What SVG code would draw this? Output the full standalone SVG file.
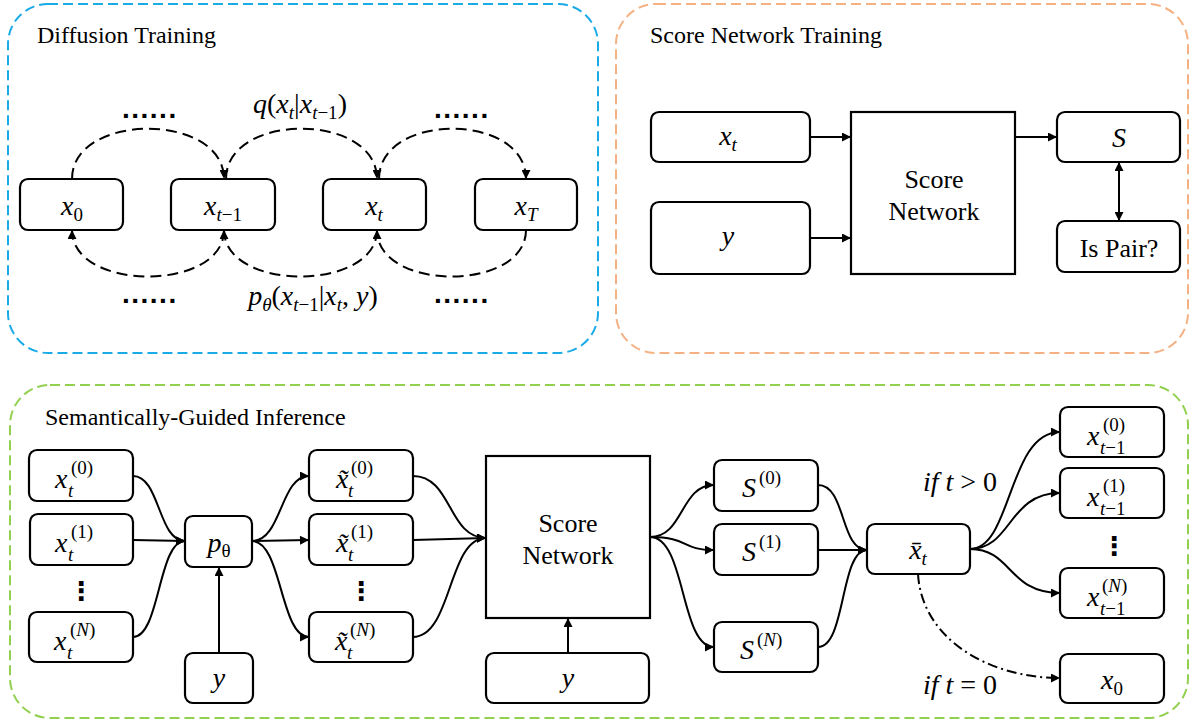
<svg xmlns="http://www.w3.org/2000/svg" width="1191" height="721" viewBox="0 0 1191 721">
<defs>
<marker id="ah" viewBox="0 0 10 10" refX="10" refY="5" markerWidth="10" markerHeight="9" markerUnits="userSpaceOnUse" orient="auto-start-reverse"><path d="M0,0 L10,5 L0,10 z" fill="#000" stroke="none"/></marker>
</defs>
<rect width="1191" height="721" fill="#fff"/>

<g id="panels" fill="none" stroke-width="2" stroke-dasharray="10 5">
<rect x="8" y="4" width="590" height="349" rx="40" stroke="#1aabe6"/>
<rect x="616" y="4" width="572" height="349" rx="40" stroke="#f4b183"/>
<rect x="10" y="385" width="1178" height="333" rx="40" stroke="#92d050"/>
</g>
<g id="titles" font-family="Liberation Serif" font-size="24" fill="#000">
<text x="37" y="43">Diffusion Training</text>
<text x="650" y="43">Score Network Training</text>
<text x="45" y="425">Semantically-Guided Inference</text>
</g>

<g id="connectors" fill="none" stroke="#000" stroke-width="2">
<g stroke-dasharray="11 6">
<path d="M72,179 C72,112 224,112 224,179" marker-end="url(#ah)"/>
<path d="M226,179 C226,112 377,112 377,179" marker-end="url(#ah)"/>
<path d="M379,179 C379,112 526,112 526,179" marker-end="url(#ah)"/>
<path d="M224,230 C224,292 72,292 72,230" marker-end="url(#ah)"/>
<path d="M377,230 C377,292 224,292 224,230" marker-end="url(#ah)"/>
<path d="M526,230 C526,292 377,292 377,230" marker-end="url(#ah)"/>
</g>
<path d="M810,137 L851,137" marker-end="url(#ah)"/>
<path d="M810,238 L851,238" marker-end="url(#ah)"/>
<path d="M1015,137 L1057,137" marker-end="url(#ah)"/>
<path d="M1119,162 L1119,221" marker-start="url(#ah)" marker-end="url(#ah)"/>
<path d="M133,476 C160,476 158,541 185,541" marker-end="url(#ah)"/>
<path d="M133,540 L185,541" marker-end="url(#ah)"/>
<path d="M133,637 C160,637 158,541 185,541" marker-end="url(#ah)"/>
<path d="M219,653 L219,567" marker-end="url(#ah)"/>
<path d="M252,541 C282,541 280,476 309,476" marker-end="url(#ah)"/>
<path d="M252,541 L309,540" marker-end="url(#ah)"/>
<path d="M252,541 C282,541 280,637 309,637" marker-end="url(#ah)"/>
<path d="M413,476 C452,476 448,538 486,538" marker-end="url(#ah)"/>
<path d="M413,540 L486,538" marker-end="url(#ah)"/>
<path d="M413,637 C452,637 448,538 486,538" marker-end="url(#ah)"/>
<path d="M568,653 L568,618" marker-end="url(#ah)"/>
<path d="M650,537 C684,537 680,485 714,485" marker-end="url(#ah)"/>
<path d="M650,537 C690,537 680,550 714,550" marker-end="url(#ah)"/>
<path d="M650,537 C686,537 680,647 714,647" marker-end="url(#ah)"/>
<path d="M818,485 C846,485 840,550 867,550" marker-end="url(#ah)"/>
<path d="M818,550 L867,550" marker-end="url(#ah)"/>
<path d="M818,647 C846,647 840,550 867,550" marker-end="url(#ah)"/>
<path d="M970,549 C1012,549 1008,432 1060,432" marker-end="url(#ah)"/>
<path d="M970,549 C1012,549 1008,493 1060,493" marker-end="url(#ah)"/>
<path d="M970,549 C1012,549 1008,593 1060,593" marker-end="url(#ah)"/>
<path d="M918,574 C922,640 990,678 1060,678" stroke-dasharray="10 4 2 4" marker-end="url(#ah)"/>
</g>

<g id="nodes" font-family="Liberation Serif" font-size="28" fill="#000">
<g id="d_x0"><rect x="20" y="179" width="103" height="51" rx="8" fill="#fff" stroke="#000" stroke-width="2.2"/>
<text font-style="italic" x="72" y="215" text-anchor="middle">x<tspan font-style="normal" font-size="19" dy="6">0</tspan></text></g>
<g id="d_xtm1"><rect x="171" y="179" width="104" height="51" rx="8" fill="#fff" stroke="#000" stroke-width="2.2"/>
<text font-style="italic" x="223" y="215" text-anchor="middle">x<tspan font-size="19" dy="6">t</tspan><tspan font-style="normal" font-size="19">&#8722;1</tspan></text></g>
<g id="d_xt"><rect x="323" y="179" width="103" height="51" rx="8" fill="#fff" stroke="#000" stroke-width="2.2"/>
<text font-style="italic" x="374" y="215" text-anchor="middle">x<tspan font-size="19" dy="6">t</tspan></text></g>
<g id="d_xT"><rect x="475" y="179" width="102" height="51" rx="8" fill="#fff" stroke="#000" stroke-width="2.2"/>
<text font-style="italic" x="526" y="215" text-anchor="middle">x<tspan font-size="19" dy="6">T</tspan></text></g>

<g id="d_labels">
<g font-family="Liberation Sans" font-weight="bold" font-size="28" letter-spacing="1.5">
<text x="122" y="118">......</text>
<text x="434" y="118">......</text>
<text x="122" y="303">......</text>
<text x="434" y="303">......</text>
</g>
<text font-style="italic" x="300" y="113" text-anchor="middle">q<tspan font-style="normal">(</tspan>x<tspan font-size="19" dy="6">t</tspan><tspan font-style="normal" dy="-6">|</tspan>x<tspan font-size="19" dy="6">t</tspan><tspan font-style="normal" font-size="19">&#8722;1</tspan><tspan font-style="normal" dy="-6">)</tspan></text>
<text font-style="italic" x="313" y="305" text-anchor="middle">p<tspan font-size="19" dy="6">&#952;</tspan><tspan font-style="normal" dy="-6">(</tspan>x<tspan font-size="19" dy="6">t</tspan><tspan font-style="normal" font-size="19">&#8722;1</tspan><tspan font-style="normal" dy="-6">|</tspan>x<tspan font-size="19" dy="6">t</tspan><tspan font-style="normal" dy="-6">, </tspan>y<tspan font-style="normal">)</tspan></text>
</g>

<g id="s_xt"><rect x="651" y="112" width="159" height="50" rx="8" fill="#fff" stroke="#000" stroke-width="2.2"/>
<text font-style="italic" x="728" y="145" text-anchor="middle">x<tspan font-size="19" dy="6">t</tspan></text></g>
<g id="s_y"><rect x="651" y="202" width="159" height="72" rx="8" fill="#fff" stroke="#000" stroke-width="2.2"/>
<text font-style="italic" x="728" y="245" text-anchor="middle">y</text></g>
<g id="s_net"><rect x="851" y="112" width="164" height="162" fill="#fff" stroke="#000" stroke-width="2.2"/>
<text font-size="26" x="934" y="188" text-anchor="middle">Score</text>
<text font-size="26" x="934" y="220" text-anchor="middle">Network</text></g>
<g id="s_S"><rect x="1057" y="112" width="123" height="50" rx="8" fill="#fff" stroke="#000" stroke-width="2.2"/>
<text font-style="italic" x="1119" y="147" text-anchor="middle">S</text></g>
<g id="s_pair"><rect x="1057" y="221" width="123" height="51" rx="8" fill="#fff" stroke="#000" stroke-width="2.2"/>
<text font-size="26" x="1119" y="257" text-anchor="middle">Is Pair?</text></g>

<g id="i_xt0"><rect x="29" y="450" width="104" height="51" rx="8" fill="#fff" stroke="#000" stroke-width="2.2"/>
<text font-style="italic"><tspan x="55" y="488">x</tspan><tspan font-style="normal" font-size="19" x="71" y="474">(0)</tspan><tspan font-size="19" x="68" y="497">t</tspan></text></g>
<g id="i_xt1"><rect x="30" y="514" width="103" height="51" rx="8" fill="#fff" stroke="#000" stroke-width="2.2"/>
<text font-style="italic"><tspan x="55" y="552">x</tspan><tspan font-style="normal" font-size="19" x="71" y="538">(1)</tspan><tspan font-size="19" x="68" y="561">t</tspan></text></g>
<text font-family="DejaVu Sans" font-weight="bold" font-size="26" x="81" y="600" text-anchor="middle">&#8942;</text>
<g id="i_xtN"><rect x="29" y="612" width="104" height="50" rx="8" fill="#fff" stroke="#000" stroke-width="2.2"/>
<text font-style="italic"><tspan x="54" y="650">x</tspan><tspan font-style="normal" font-size="19" x="70" y="636">(</tspan><tspan font-size="19">N</tspan><tspan font-style="normal" font-size="19">)</tspan><tspan font-size="19" x="67" y="659">t</tspan></text></g>
<g id="i_p"><rect x="185" y="516" width="67" height="51" rx="8" fill="#fff" stroke="#000" stroke-width="2.2"/>
<text font-style="italic" x="219" y="552" text-anchor="middle">p<tspan font-style="normal" font-size="19" dy="5">&#952;</tspan></text></g>
<g id="i_y1"><rect x="185" y="653" width="68" height="50" rx="8" fill="#fff" stroke="#000" stroke-width="2.2"/>
<text font-style="italic" x="219" y="687" text-anchor="middle">y</text></g>
<g id="i_xs0"><rect x="309" y="450" width="104" height="51" rx="8" fill="#fff" stroke="#000" stroke-width="2.2"/>
<text font-style="italic"><tspan x="336" y="488">x&#771;</tspan><tspan font-style="normal" font-size="19" x="351" y="474">(0)</tspan><tspan font-size="19" x="348" y="497">t</tspan></text></g>
<g id="i_xs1"><rect x="309" y="514" width="104" height="51" rx="8" fill="#fff" stroke="#000" stroke-width="2.2"/>
<text font-style="italic"><tspan x="336" y="552">x&#771;</tspan><tspan font-style="normal" font-size="19" x="351" y="538">(1)</tspan><tspan font-size="19" x="348" y="561">t</tspan></text></g>
<text font-family="DejaVu Sans" font-weight="bold" font-size="26" x="361" y="600" text-anchor="middle">&#8942;</text>
<g id="i_xsN"><rect x="309" y="612" width="104" height="50" rx="8" fill="#fff" stroke="#000" stroke-width="2.2"/>
<text font-style="italic"><tspan x="335" y="650">x&#771;</tspan><tspan font-style="normal" font-size="19" x="350" y="636">(</tspan><tspan font-size="19">N</tspan><tspan font-style="normal" font-size="19">)</tspan><tspan font-size="19" x="347" y="659">t</tspan></text></g>
<g id="i_net"><rect x="486" y="456" width="164" height="162" fill="#fff" stroke="#000" stroke-width="2.2"/>
<text font-size="26" x="568" y="532" text-anchor="middle">Score</text>
<text font-size="26" x="568" y="564" text-anchor="middle">Network</text></g>
<g id="i_y2"><rect x="486" y="653" width="163" height="50" rx="8" fill="#fff" stroke="#000" stroke-width="2.2"/>
<text font-style="italic" x="568" y="687" text-anchor="middle">y</text></g>
<g id="i_S0"><rect x="714" y="460" width="104" height="51" rx="8" fill="#fff" stroke="#000" stroke-width="2.2"/>
<text font-style="italic"><tspan x="742" y="497">S</tspan><tspan font-style="normal" font-size="19" x="759" y="484">(0)</tspan></text></g>
<g id="i_S1"><rect x="714" y="524" width="104" height="51" rx="8" fill="#fff" stroke="#000" stroke-width="2.2"/>
<text font-style="italic"><tspan x="742" y="561">S</tspan><tspan font-style="normal" font-size="19" x="759" y="548">(1)</tspan></text></g>
<g id="i_SN"><rect x="714" y="622" width="104" height="50" rx="8" fill="#fff" stroke="#000" stroke-width="2.2"/>
<text font-style="italic"><tspan x="740" y="659">S</tspan><tspan font-style="normal" font-size="19" x="757" y="646">(</tspan><tspan font-size="19">N</tspan><tspan font-style="normal" font-size="19">)</tspan></text></g>
<g id="i_xbar"><rect x="867" y="524" width="103" height="50" rx="8" fill="#fff" stroke="#000" stroke-width="2.2"/>
<text font-style="italic" x="918" y="559" text-anchor="middle">x&#772;<tspan font-size="19" dy="6">t</tspan></text></g>
<g id="i_o0"><rect x="1060" y="407" width="104" height="50" rx="8" fill="#fff" stroke="#000" stroke-width="2.2"/>
<text font-style="italic"><tspan x="1087" y="445">x</tspan><tspan font-style="normal" font-size="19" x="1103" y="431">(0)</tspan><tspan font-size="19" x="1100" y="454">t</tspan><tspan font-style="normal" font-size="19">&#8722;1</tspan></text></g>
<g id="i_o1"><rect x="1060" y="468" width="104" height="50" rx="8" fill="#fff" stroke="#000" stroke-width="2.2"/>
<text font-style="italic"><tspan x="1087" y="506">x</tspan><tspan font-style="normal" font-size="19" x="1103" y="492">(1)</tspan><tspan font-size="19" x="1100" y="515">t</tspan><tspan font-style="normal" font-size="19">&#8722;1</tspan></text></g>
<text font-family="DejaVu Sans" font-weight="bold" font-size="26" x="1114" y="555" text-anchor="middle">&#8942;</text>
<g id="i_oN"><rect x="1060" y="568" width="104" height="50" rx="8" fill="#fff" stroke="#000" stroke-width="2.2"/>
<text font-style="italic"><tspan x="1087" y="606">x</tspan><tspan font-style="normal" font-size="19" x="1102" y="592">(</tspan><tspan font-size="19">N</tspan><tspan font-style="normal" font-size="19">)</tspan><tspan font-size="19" x="1100" y="615">t</tspan><tspan font-style="normal" font-size="19">&#8722;1</tspan></text></g>
<g id="i_x0"><rect x="1060" y="654" width="104" height="49" rx="8" fill="#fff" stroke="#000" stroke-width="2.2"/>
<text font-style="italic" x="1112" y="689" text-anchor="middle">x<tspan font-style="normal" font-size="19" dy="6">0</tspan></text></g>
<g id="i_labels">
<text font-style="italic" x="960" y="491" text-anchor="middle">if t <tspan font-style="normal">&gt; 0</tspan></text>
<text font-style="italic" x="960" y="694" text-anchor="middle">if t <tspan font-style="normal">= 0</tspan></text>
</g>
</g>
</svg>
